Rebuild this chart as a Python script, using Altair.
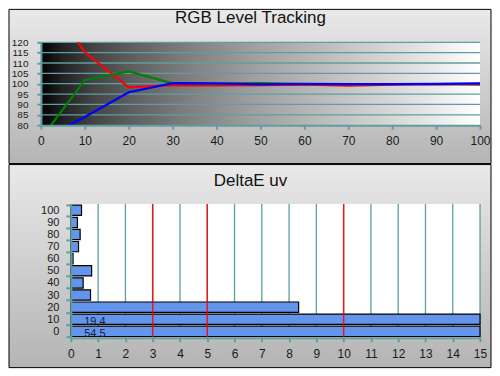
import altair as alt
import pandas as pd

# ---------------- data ----------------
levels = [0, 10, 20, 30, 40, 50, 60, 70, 80, 90, 100]
red = [147.0, 115.2, 98.3, 99.3, 99.2, 99.3, 99.6, 99.1, 99.5, 99.8, 99.5]
green = [73.5, 101.7, 105.9, 100.2, 100.0, 100.3, 99.8, 99.8, 99.8, 99.8, 99.9]
blue = [73.0, 83.9, 95.9, 100.3, 100.2, 99.7, 99.9, 99.8, 99.8, 99.9, 100.2]

top_x_ticks = [0, 10, 20, 30, 40, 50, 60, 70, 80, 90, 100]
top_y_ticks = [80, 85, 90, 95, 100, 105, 110, 115, 120]

de_levels = ["100", "90", "80", "70", "60", "50", "40", "30", "20", "10", "0"]
de_values = [0.39, 0.24, 0.34, 0.28, 0.08, 0.76, 0.45, 0.72, 8.35, 19.4, 54.5]
bot_x_ticks = list(range(16))
limit_lines = [3, 5, 10]

# ---------------- style ----------------
TEAL = "#5f9ea0"
FONT = "Liberation Sans"
LABEL = "#1a1a1a"

W1, H1 = 440, 83
W2, H2 = 440, 134

panel_grad = {"gradient": "linear", "x1": 0, "y1": 0, "x2": 0, "y2": 1,
              "stops": [{"offset": 0, "color": "#e9e9e9"}, {"offset": 1, "color": "#b4b4b4"}]}
plot_grad = {"gradient": "linear", "x1": 0, "y1": 0, "x2": 1, "y2": 0,
             "stops": [{"offset": 0.0, "color": "#000000"},
                       {"offset": 0.05, "color": "#222222"},
                       {"offset": 0.12, "color": "#444444"},
                       {"offset": 0.22, "color": "#626262"},
                       {"offset": 0.35, "color": "#828282"},
                       {"offset": 0.5, "color": "#a2a2a2"},
                       {"offset": 0.7, "color": "#c6c6c6"},
                       {"offset": 0.86, "color": "#e2e2e2"},
                       {"offset": 1.0, "color": "#ffffff"}]}

one = pd.DataFrame({"k": [0]})

# ---------------- top panel ----------------
lines_df = pd.DataFrame({
    "lvl": levels * 3,
    "val": red + green + blue,
    "ch": ["R"] * len(levels) + ["G"] * len(levels) + ["B"] * len(levels),
})
grid_top = pd.DataFrame({"val": top_y_ticks[1:]})

xs_top = alt.Scale(domain=[0, 100], nice=False, zero=False)
ys_top = alt.Scale(domain=[80, 120], nice=False, zero=False)
ax_x_top = alt.Axis(values=top_x_ticks, title=None, grid=False, domainColor=TEAL, domainWidth=2,
                    tickColor=TEAL, tickWidth=2, tickSize=4, labelPadding=6, labelFontSize=12,
                    labelFont=FONT, labelColor=LABEL, labelFlush=False, labelOverlap=False, zindex=1)
ax_y_top = alt.Axis(values=top_y_ticks, title=None, grid=False, domainColor=TEAL, domainWidth=2,
                    tickColor=TEAL, tickWidth=2, tickSize=4, labelPadding=9, labelFontSize=10,
                    labelFont=FONT, labelColor=LABEL, labelFlush=False, labelOverlap=False, zindex=1)

top_bg = alt.Chart(one).mark_rect(fill=panel_grad, stroke="black", strokeWidth=1).encode(
    x=alt.value(-32), x2=alt.value(451), y=alt.value(-33), y2=alt.value(121.5))
top_plot = alt.Chart(one).mark_rect(fill=plot_grad).encode(
    x=alt.X(datum=0, scale=xs_top, axis=ax_x_top), x2=alt.X2(datum=100),
    y=alt.Y(datum=80, scale=ys_top, axis=ax_y_top), y2=alt.Y2(datum=120))
top_grid = alt.Chart(grid_top).mark_rule(color=TEAL, strokeWidth=1.3).encode(
    y=alt.Y("val:Q", scale=ys_top, axis=ax_y_top))
top_lines = alt.Chart(lines_df).mark_line(clip=True, strokeWidth=2.2).encode(
    x=alt.X("lvl:Q", scale=xs_top, axis=ax_x_top),
    y=alt.Y("val:Q", scale=ys_top, axis=ax_y_top),
    color=alt.Color("ch:N", scale=alt.Scale(domain=["R", "G", "B"], range=["#ff0000", "#008000", "#0000ff"]),
                    legend=None))
top_title = alt.Chart(one).mark_text(text="RGB Level Tracking", font=FONT, fontSize=17, color="#111111",
                                     align="center", baseline="alphabetic").encode(
    x=alt.value(210), y=alt.value(-19.6))

top = alt.layer(top_bg, top_plot, top_grid, top_lines, top_title).properties(width=W1, height=H1)

# ---------------- bottom panel ----------------
de_df = pd.DataFrame({"lvl": de_levels, "v": de_values})
grid_bot = pd.DataFrame({"v": bot_x_ticks[1:]})
red_df = pd.DataFrame({"v": limit_lines})

xs_bot = alt.Scale(domain=[0, 15], range=[30, 440], clamp=True, nice=False, zero=False)
ys_bot = alt.Scale(paddingInner=0.15, paddingOuter=0.1)
ax_x_bot = alt.Axis(values=bot_x_ticks, title=None, grid=False, domainColor=TEAL, domainWidth=2,
                    tickColor=TEAL, tickWidth=2, tickSize=4, labelPadding=7, labelFontSize=12,
                    labelFont=FONT, labelColor=LABEL, labelFlush=False, labelOverlap=False, zindex=1)
ax_y_bot = alt.Axis(title=None, grid=False, offset=-30, tickBand="extent", domainColor=TEAL, domainWidth=2,
                    tickColor=TEAL, tickWidth=2, tickSize=5, labelPadding=7, labelFontSize=11,
                    labelFont=FONT, labelColor=LABEL, zindex=1)

bot_bg = alt.Chart(one).mark_rect(fill=panel_grad, stroke="black", strokeWidth=1).encode(
    x=alt.value(-32), x2=alt.value(451), y=alt.value(-39.5), y2=alt.value(164))
bot_plot = alt.Chart(one).mark_rect(fill="white").encode(
    x=alt.X(datum=0, scale=xs_bot, axis=ax_x_bot), x2=alt.X2(datum=15),
    y=alt.value(0), y2=alt.value(H2))
bot_grid = alt.Chart(grid_bot).mark_rule(color=TEAL, strokeWidth=1.3).encode(
    x=alt.X("v:Q", scale=xs_bot, axis=ax_x_bot))
bot_bars = alt.Chart(de_df).mark_bar(fill="#6495ed", stroke="black", strokeWidth=1.2).encode(
    x=alt.X("v:Q", scale=xs_bot, axis=ax_x_bot),
    y=alt.Y("lvl:N", sort=de_levels, scale=ys_bot, axis=ax_y_bot))
bot_red = alt.Chart(red_df).mark_rule(color="#ff0000", strokeWidth=1.5, opacity=0.85).encode(
    x=alt.X("v:Q", scale=xs_bot, axis=ax_x_bot))
bot_text = alt.Chart(de_df).transform_filter("datum.v > 15").mark_text(
    font=FONT, fontSize=11, color="#1a1a33", align="center", baseline="middle", dx=24, dy=3).encode(
    x=alt.X(datum=0, scale=xs_bot, axis=ax_x_bot),
    y=alt.Y("lvl:N", sort=de_levels, scale=ys_bot, axis=ax_y_bot),
    text=alt.Text("v:Q", format=".1f"))
bot_title = alt.Chart(one).mark_text(text="DeltaE uv", font=FONT, fontSize=17, color="#111111",
                                     align="center", baseline="alphabetic").encode(
    x=alt.value(210), y=alt.value(-18.5))

bot = alt.layer(bot_bg, bot_plot, bot_grid, bot_bars, bot_red, bot_text, bot_title).properties(width=W2, height=H2)

chart = alt.vconcat(top, bot, spacing=0).properties(padding=0, background="white").configure_view(stroke=None)

chart.save("out.html", embed_options={"renderer": "svg", "actions": False})
